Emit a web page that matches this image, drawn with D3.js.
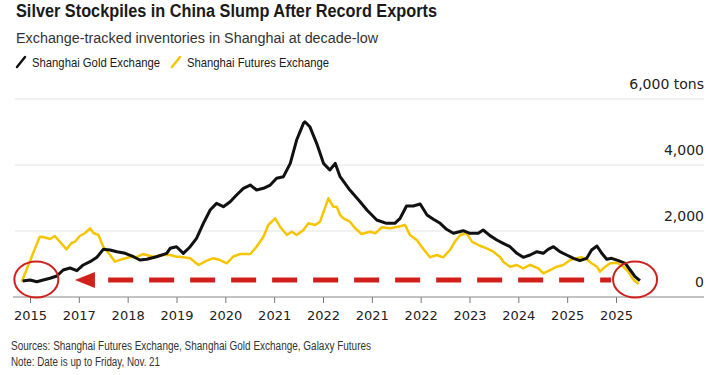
<!DOCTYPE html>
<html lang="en">
<head>
    <meta charset="UTF-8">
    <title>Silver Stockpiles in China</title>
    <script src="https://cdn.jsdelivr.net/npm/d3@7/dist/d3.min.js"></script>
    <style>
        body { margin: 0; background: #fff; }
        svg { display: block; }
        text { font-family: "Liberation Sans", Arial, sans-serif; fill: #1a1a1a; }
        .num { font-family: "DejaVu Sans", sans-serif; fill: #222; }
    </style>
</head>
<body>
<script>
    const width = 720;
    const height = 375;

    // x positions are in tick units: 0 = first tick label, 12 = last one
    const tickLabels = ['2015', '2017', '2018', '2019', '2020', '2021', '2022',
        '2021', '2022', '2023', '2024', '2025', '2025'];
    const yTicks = [0, 2000, 4000, 6000];

    // Shanghai Gold Exchange, tons
    const sgeSeries = [
        [-0.15, 485], [0, 515], [0.14, 464], [0.27, 515], [0.41, 567], [0.55, 636],
        [0.68, 818], [0.82, 879], [0.96, 797], [1.09, 970], [1.23, 1070], [1.37, 1203],
        [1.5, 1445], [1.64, 1424], [1.78, 1373], [1.95, 1324], [2.12, 1221], [2.25, 1121],
        [2.39, 1142], [2.59, 1221], [2.8, 1324], [2.87, 1476], [3.0, 1524], [3.14, 1324],
        [3.28, 1524], [3.41, 1777], [3.55, 2232], [3.69, 2636], [3.82, 2838], [3.96, 2737],
        [4.1, 2888], [4.23, 3091], [4.37, 3293], [4.51, 3393], [4.64, 3242], [4.78, 3293],
        [4.92, 3393], [5.05, 3596], [5.19, 3646], [5.33, 4050], [5.46, 4757], [5.6, 5262],
        [5.63, 5311], [5.73, 5161], [5.87, 4656], [6.01, 4050], [6.14, 3848], [6.25, 4050],
        [6.35, 3646], [6.55, 3242], [6.76, 2888], [6.9, 2636], [7.1, 2333], [7.3, 2233],
        [7.47, 2233], [7.58, 2385], [7.71, 2757], [7.85, 2757], [7.99, 2818], [8.13, 2485],
        [8.26, 2354], [8.4, 2233], [8.53, 2051], [8.67, 1930], [8.87, 2009], [9.01, 1930],
        [9.18, 1930], [9.28, 2030], [9.42, 1860], [9.56, 1727], [9.69, 1627], [9.83, 1524],
        [9.97, 1324], [10.1, 1203], [10.24, 1273], [10.38, 1373], [10.51, 1324], [10.61, 1445],
        [10.72, 1524], [10.85, 1373], [10.99, 1273], [11.13, 1173], [11.26, 1100], [11.4, 1173],
        [11.5, 1424], [11.61, 1545], [11.71, 1324], [11.81, 1142], [11.91, 1173], [12.05, 1100],
        [12.19, 1021], [12.29, 818], [12.39, 615], [12.49, 494]
    ];

    // Shanghai Futures Exchange, tons
    const shfeSeries = [
        [-0.17, 464], [0.2, 1827], [0.27, 1818], [0.41, 1757], [0.51, 1848], [0.61, 1676],
        [0.75, 1445], [0.85, 1636], [0.92, 1676], [1.02, 1848], [1.13, 1939], [1.23, 2082],
        [1.3, 1939], [1.4, 1879], [1.5, 1524], [1.64, 1273], [1.74, 1070], [1.9, 1151],
        [2.05, 1212], [2.19, 1212], [2.31, 1303], [2.52, 1221], [2.72, 1273], [2.87, 1273],
        [3.0, 1221], [3.07, 1221], [3.28, 1173], [3.45, 970], [3.62, 1100], [3.75, 1173],
        [3.89, 1121], [4.03, 1021], [4.16, 1221], [4.3, 1303], [4.51, 1303], [4.64, 1524],
        [4.78, 1827], [4.88, 2182], [5.02, 2385], [5.12, 2130], [5.26, 1879], [5.36, 1979],
        [5.46, 1879], [5.6, 2030], [5.7, 2233], [5.84, 2182], [5.94, 2282], [6.11, 2991],
        [6.21, 2736], [6.28, 2736], [6.35, 2485], [6.42, 2385], [6.55, 2282], [6.66, 2082],
        [6.79, 1909], [6.96, 1979], [7.07, 1930], [7.2, 2112], [7.37, 2082], [7.54, 2130],
        [7.68, 2182], [7.78, 1879], [7.92, 1727], [8.02, 1524], [8.19, 1203], [8.33, 1273],
        [8.46, 1203], [8.6, 1424], [8.7, 1676], [8.81, 1879], [8.94, 1930], [9.05, 1676],
        [9.18, 1576], [9.35, 1476], [9.49, 1373], [9.63, 1203], [9.69, 1070], [9.83, 918],
        [9.97, 970], [10.1, 870], [10.24, 970], [10.41, 870], [10.51, 718], [10.65, 818],
        [10.79, 918], [10.92, 970], [11.06, 1121], [11.2, 1173], [11.3, 1203], [11.4, 1142],
        [11.5, 1021], [11.61, 918], [11.67, 767], [11.78, 918], [11.88, 1021], [12.02, 1039],
        [12.15, 918], [12.25, 767], [12.35, 536], [12.46, 394]
    ];

    const legendNames = ['Shanghai Gold Exchange', 'Shanghai Futures Exchange'];
    const colors = ['#111111', '#f7c500'];
    const red = '#d1201c';

    let svg = d3.select('body')
        .append('svg')
        .attr('width', width)
        .attr('height', height);

    const x = d3.scaleLinear().domain([0, 12]).range([30, 616]);
    const y = d3.scaleLinear().domain([0, 6000]).range([297, 99]);

    // squeeze text to the width it has in the picture
    function fit(sel, w) {
        sel.attr('textLength', w).attr('lengthAdjust', 'spacingAndGlyphs');
    }

    // titles
    svg.append('text').attr('x', 16).attr('y', 17)
        .style('font-size', '18px').style('font-weight', 'bold')
        .text('Silver Stockpiles in China Slump After Record Exports')
        .call(fit, 421);
    svg.append('text').attr('x', 16).attr('y', 43)
        .style('font-size', '15.5px').style('fill', '#333')
        .text('Exchange-tracked inventories in Shanghai at decade-low')
        .call(fit, 362);

    // legend
    const legendX = [17, 172];
    const legendW = [128, 142];
    legendNames.forEach((name, i) => {
        svg.append('line')
            .attr('x1', legendX[i]).attr('y1', 67)
            .attr('x2', legendX[i] + 8).attr('y2', 57)
            .attr('stroke', colors[i]).attr('stroke-width', 2.5)
            .attr('stroke-linecap', 'round');
        svg.append('text').attr('x', legendX[i] + 15).attr('y', 66.5)
            .style('font-size', '13px')
            .text(name)
            .call(fit, legendW[i]);
    });

    // gridlines + y labels
    svg.append('g')
        .selectAll('line')
        .data(yTicks.filter(d => d > 0))
        .enter()
        .append('line')
        .attr('x1', 15).attr('x2', 704)
        .attr('y1', d => y(d)).attr('y2', d => y(d))
        .attr('stroke', '#e3e3e3').attr('stroke-width', 1);

    svg.append('g')
        .selectAll('text')
        .data(yTicks)
        .enter()
        .append('text')
        .attr('class', 'num')
        .attr('x', 704)
        .attr('y', d => y(d) - 10)
        .attr('text-anchor', 'end')
        .style('font-size', '14px')
        .text(d => d3.format(',')(d) + (d === 6000 ? ' tons' : ''));

    // x axis
    const xAxis = d3.axisBottom(x)
        .tickValues(d3.range(tickLabels.length))
        .tickFormat(i => tickLabels[i])
        .tickSize(6)
        .tickPadding(8);

    let axisG = svg.append('g')
        .attr('transform', 'translate(0,' + y(0) + ')')
        .call(xAxis);
    axisG.select('.domain').remove();
    axisG.selectAll('.tick line').attr('stroke', '#777');
    axisG.selectAll('.tick text')
        .attr('class', 'num')
        .style('font-family', '"DejaVu Sans", sans-serif')
        .style('font-size', '13px')
        .attr('fill', '#222');
    svg.append('line')
        .attr('x1', 13).attr('x2', 704)
        .attr('y1', y(0)).attr('y2', y(0))
        .attr('stroke', '#888').attr('stroke-width', 1.2);

    // lines
    const line = d3.line()
        .x(d => x(d[0]))
        .y(d => y(d[1]));

    svg.append('path')
        .datum(shfeSeries)
        .attr('d', line)
        .attr('fill', 'none')
        .attr('stroke', colors[1])
        .attr('stroke-width', 2.5)
        .attr('stroke-linejoin', 'round');

    svg.append('path')
        .datum(sgeSeries)
        .attr('d', line)
        .attr('fill', 'none')
        .attr('stroke', colors[0])
        .attr('stroke-width', 3)
        .attr('stroke-linejoin', 'round');

    // annotation: dashed arrow pointing back to 2015 levels
    const arrowY = y(515);
    svg.append('line')
        .attr('x1', x(1.6)).attr('x2', x(11.9))
        .attr('y1', arrowY).attr('y2', arrowY)
        .attr('stroke', red).attr('stroke-width', 5)
        .attr('stroke-dasharray', '25,16');
    const tipX = x(0.92);
    svg.append('path')
        .attr('d', 'M' + tipX + ',' + arrowY + ' L' + (tipX + 20) + ',' + (arrowY - 8) +
            ' L' + (tipX + 20) + ',' + (arrowY + 8) + ' Z')
        .attr('fill', red);

    // circles around start and end
    [0.13, 12.39].forEach(t => {
        svg.append('ellipse')
            .attr('cx', x(t)).attr('cy', y(530))
            .attr('rx', 22).attr('ry', 18)
            .attr('fill', 'none')
            .attr('stroke', red).attr('stroke-width', 2);
    });

    // footer
    svg.append('text').attr('x', 11).attr('y', 350)
        .style('font-size', '12px').style('fill', '#333')
        .text('Sources: Shanghai Futures Exchange, Shanghai Gold Exchange,  Galaxy Futures')
        .call(fit, 360);
    svg.append('text').attr('x', 11).attr('y', 366)
        .style('font-size', '12px').style('fill', '#333')
        .text('Note: Date is up to Friday, Nov. 21')
        .call(fit, 149);
</script>
</body>
</html>
